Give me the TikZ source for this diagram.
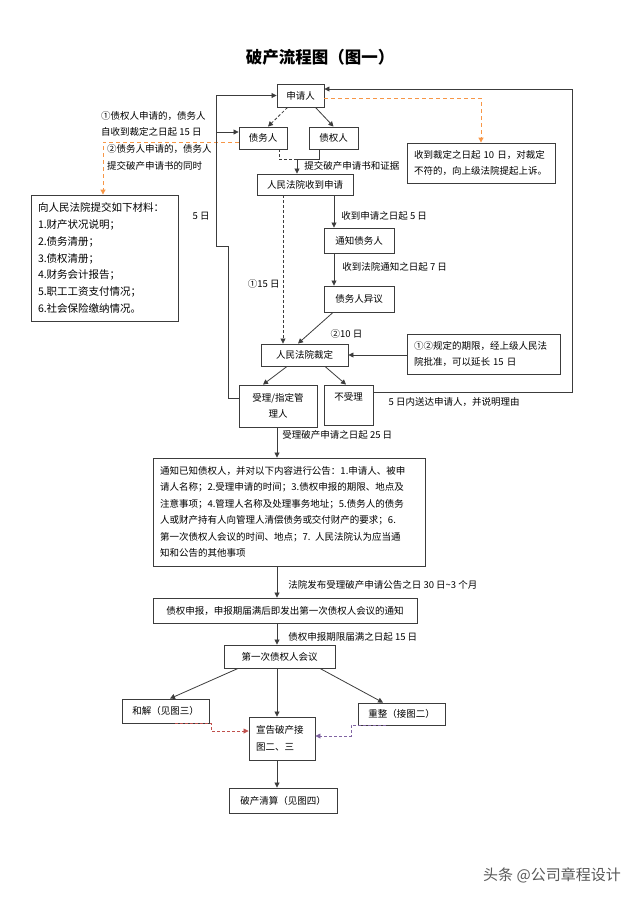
\documentclass[tikz,border=0pt]{standalone}
\usepackage{fontspec}
\setmainfont{Noto Sans CJK SC}
\usetikzlibrary{arrows.meta}
\definecolor{linegray}{RGB}{60,60,60}
\definecolor{appealorange}{RGB}{247,150,70}
\definecolor{settlered}{RGB}{192,80,77}
\definecolor{reorgpurple}{RGB}{128,100,162}
\newcommand{\flowbox}[6]{\node[box, minimum width=#4pt, minimum height=#5pt] (#1) at (#2,#3) {#6};}
\newcommand{\listbox}[6]{\node[box, listtext, text width=#4pt, minimum height=#5pt] (#1) at (#2,#3) {#6};}
\tikzset{
  box/.style={draw=linegray, line width=0.9pt, inner sep=2pt, align=center,
    font=\fontsize{9.5}{16.5}\selectfont},
  listtext/.style={align=left, inner xsep=7pt},
  link/.style={draw=linegray, line width=0.8pt},
  arr/.style={link, -{Triangle[length=5pt,width=5pt]}},
  dashedge/.style={dash pattern=on 3pt off 2pt},
  appealdash/.style={draw=appealorange, line width=1pt, dash pattern=on 4pt off 3pt},
  lbl/.style={font=\fontsize{9.5}{12}\selectfont, inner sep=0pt},
  note/.style={font=\fontsize{9.5}{16.5}\selectfont, align=left, inner sep=0pt, anchor=west},
}
\begin{document}
\begin{tikzpicture}[x=1pt, y=-1pt]
  \useasboundingbox (0,0) rectangle (640,906);
  \node[font=\fontsize{16.5}{20}\selectfont\bfseries] (title) at (320,57) {破产流程图（图一）};

  % boxes
  \flowbox{apply}{300.5}{95.5}{47}{23}{申请人}
  \flowbox{debtor}{263}{138}{48}{22}{债务人}
  \flowbox{creditor}{333.5}{138}{49}{22}{债权人}
  \flowbox{receive}{305}{184.5}{96}{21}{人民法院收到申请}
  \listbox{appeal}{481}{163}{134}{40}{收到裁定之日起 10 日，对裁定\\不符的，向上级法院提起上诉。}
  \flowbox{notify}{359}{240.5}{70}{25}{通知债务人}
  \flowbox{objection}{359}{299}{70}{26}{债务人异议}
  \flowbox{ruling}{304.5}{355}{87}{22}{人民法院裁定}
  \listbox{extend}{483.5}{354}{139}{40}{①②规定的期限，经上级人民法\\院批准，可以延长 15 日}
  \flowbox{accept}{278}{406}{78}{42}{受理/指定管\\理人}
  \flowbox{reject}{348.5}{405}{49}{40}{不受理\\\phantom{不}}
  \listbox{notice}{289}{512}{258}{108}{通知已知债权人，并对以下内容进行公告：1.申请人、被申\\请人名称；2.受理申请的时间；3.债权申报的期限、地点及\\注意事项；4.管理人名称及处理事务地址；5.债务人的债务\\人或财产持有人向管理人清偿债务或交付财产的要求；6.\\第一次债权人会议的时间、地点；7. 人民法院认为应当通\\知和公告的其他事项}
  \flowbox{claims}{285}{610.5}{264}{25}{债权申报，申报期届满后即发出第一次债权人会议的通知}
  \flowbox{meeting}{279.5}{656.5}{111}{23}{第一次债权人会议}
  \flowbox{settle}{165.5}{711}{87}{24}{和解（见图三）}
  \listbox{bankrupt}{282}{738.5}{52}{43}{宣告破产接\\图二、三}
  \flowbox{reorg}{401.5}{714}{87}{22}{重整（接图二）}
  \flowbox{liquidate}{283}{800.5}{108}{25}{破产清算（见图四）}
  \node[box, listtext, text width=133pt, minimum height=126pt, font=\fontsize{10.5}{16.9}\selectfont] (materials) at (104.5,258)
    {向人民法院提交如下材料：\\1.财产状况说明；\\2.债务清册；\\3.债权清册；\\4.财务会计报告；\\5.职工工资支付情况；\\6.社会保险缴纳情况。};

  % notes on the left
  \node[note] (noteA) at (101,124) {①债权人申请的，债务人\\自收到裁定之日起 15 日};
  \node[note] (noteB) at (107,157.5) {②债务人申请的，债务人\\提交破产申请书的同时};

  % helper points
  \coordinate (spine) at (277,0);
  \coordinate (notifyCol) at (334,0);
  \coordinate (hearCol) at (283,0);
  \coordinate (join) at (297,159);
  \coordinate (loopA) at (228,246);
  \coordinate (loopB) at (216,246);
  \coordinate (loopR) at (572,89);
  \coordinate (debtorIn) at ([yshift=6]debtor.west);
  \coordinate (applyIn) at ([yshift=6.5]apply.east);
  \coordinate (rejectOut) at ([yshift=13]reject.east);

  % application
  \draw[arr, dashedge] ([xshift=-13]apply.south) -- ([xshift=5]debtor.north);
  \draw[arr] ([xshift=15]apply.south) -- (creditor.north);
  \draw[link, dashedge] ([xshift=16]debtor.south) |- (join);
  \draw[link] ([xshift=-14.5]creditor.south) |- (join);
  \draw[arr] (join) -- node[lbl, anchor=west, xshift=7] (submitLbl) {提交破产申请书和证据} (join |- receive.north);
  \draw[arr, appealdash] ([yshift=-4]debtor.west) -| ([xshift=-1.5]materials.north);
  \draw[arr, appealdash] ([yshift=-2.5]apply.east) -| (appeal.north);

  % loops back to the applicant
  \draw[arr] ([yshift=8]accept.west) -| (loopA) -- (loopB)
    -- node[lbl, pos=0.2, anchor=east, xshift=-6] (fiveLbl) {5 日} (loopB |- apply.west) -- (apply.west);
  \draw[arr] (debtorIn -| loopB) -- (debtorIn);
  \draw[arr] (rejectOut) -- node[lbl, pos=0.075, anchor=west, yshift=-10] (rejectLbl) {5 日内送达申请人，并说明理由}
    (rejectOut -| loopR) -- (loopR) -- (applyIn);

  % hearing
  \draw[arr] (receive.south -| notifyCol) -- node[lbl, pos=0.64, anchor=west, xshift=7] (fiveDayLbl) {收到申请之日起 5 日} (notify.north -| notifyCol);
  \draw[arr] (notify.south -| notifyCol) -- node[lbl, pos=0.42, anchor=west, xshift=8] (sevenDayLbl) {收到法院通知之日起 7 日} (objection.north -| notifyCol);
  \draw[arr] ([xshift=-26]objection.south) -- node[lbl, pos=0.68, anchor=west, xshift=21] (tenDayLbl) {②10 日} ([xshift=-6.5]ruling.north);
  \draw[arr, dashedge] (receive.south -| hearCol) -- node[lbl, pos=0.595, anchor=east, xshift=-3] (fifteenLbl) {①15 日} (ruling.north -| hearCol);
  \draw[arr] (ruling.east -| extend.west) -- (ruling.east);
  \draw[arr] ([xshift=-17.5]ruling.south) -- ([xshift=-15]accept.north);
  \draw[arr] ([xshift=20.5]ruling.south) -- ([xshift=-2.5]reject.north);

  % after acceptance
  \draw[arr] (accept.south -| spine) -- node[lbl, pos=0.26, anchor=west, xshift=5] (acceptLbl) {受理破产申请之日起 25 日} (notice.north -| spine);
  \draw[arr] (notice.south -| spine) -- node[lbl, pos=0.6, anchor=west, xshift=11] (noticeLbl) {法院发布受理破产申请公告之日 30 日\textasciitilde 3 个月} (claims.north -| spine);
  \draw[arr] (claims.south -| spine) -- node[lbl, pos=0.64, anchor=west, xshift=11] (claimsLbl) {债权申报期限届满之日起 15 日} (meeting.north -| spine);
  \draw[arr] ([xshift=-41.5]meeting.south) -- ([xshift=4.5]settle.north);
  \draw[arr] (meeting.south -| spine) -- (bankrupt.north -| spine);
  \draw[arr] ([xshift=40.5]meeting.south) -- ([xshift=-18.5]reorg.north);
  \draw[arr, dashedge, draw=settlered] ([xshift=9.5]settle.south) -- ++(36,0) |- ([yshift=7.5]bankrupt.west);
  \draw[arr, dashedge, draw=reorgpurple] ([xshift=-15.5]reorg.south) -- ++(-35,0) |- ([yshift=2.5]bankrupt.east);
  \draw[arr] (bankrupt.south -| spine) -- (liquidate.north -| spine);

  \node[font=\fontsize{15}{18}\selectfont, text=black!65] (credit) at (552,875) {头条 @公司章程设计};
\end{tikzpicture}
\end{document}
